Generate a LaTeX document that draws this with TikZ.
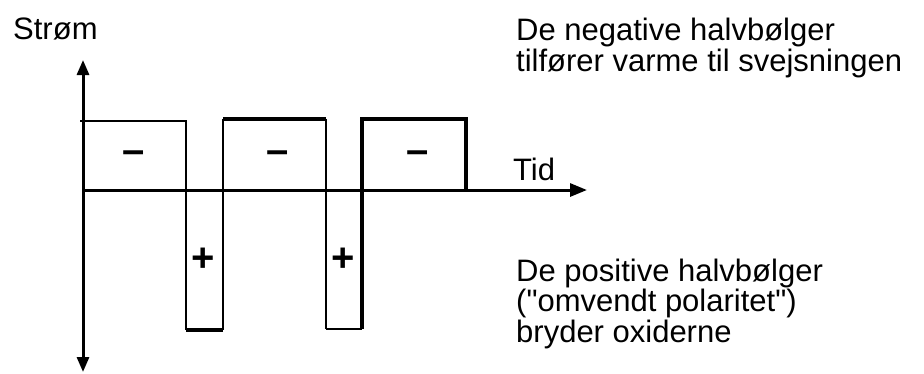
\documentclass[tikz,border=0pt]{standalone}
\usepackage{fontspec}
\newfontfamily\wavefont{Liberation Sans}
\usepackage{xcolor}
\usepackage{tikz}
\usetikzlibrary{arrows.meta}
\definecolor{WaveInk}{HTML}{000000}
\tikzset{
  wave label/.style={
    font=\wavefont\fontsize{31}{30.5}\selectfont, text=WaveInk,
    inner sep=0pt, anchor=base west, align=left
  },
  wave sign/.style={
    font=\wavefont\fontsize{40}{40}\selectfont\bfseries, text=WaveInk, inner sep=0pt
  },
  wave thin/.style={WaveInk, line width=1.3pt},
  wave mid/.style={WaveInk, line width=2.2pt},
  wave thick/.style={WaveInk, line width=3.4pt},
  wave axis/.style={WaveInk, line width=3pt,
    {Triangle[length=15pt, width=12pt]}-{Triangle[length=15pt, width=12pt]}},
  wave time/.style={WaveInk, line width=3pt, -{Triangle[length=17pt, width=13pt]}}
}

\begin{document}
\begin{tikzpicture}[x=1pt, y=-1pt]
  \useasboundingbox (0,0) rectangle (924,373);

  \coordinate (ytop) at (83,60);
  \coordinate (ybot) at (83,372);
  \coordinate (origin) at (83,190);
  \coordinate (xend) at (587,190);

  \draw[wave thin] (80,121) -- (186,121) -- (186,330);
  \draw[wave thin] (223,330) -- (223,119);
  \draw[wave thin] (326,119) -- (326,329);
  \draw[wave thick] (223,119) -- (326,119);
  \draw[wave thick] (186,330) -- (223,330);
  \draw[wave mid] (326,329) -- (362,329);
  \draw[wave thick] (362,329) -- (362,119) -- (466,119) -- (466,190);

  \draw[wave axis] (ybot) -- (ytop);
  \draw[wave time] (origin) -- (xend);

  \node[wave sign] (minusA) at (134,157) {–};
  \node[wave sign] (minusB) at (278,157) {–};
  \node[wave sign] (minusC) at (418,157) {–};
  \node[wave sign] (plusA) at (203,260) {+};
  \node[wave sign] (plusB) at (343,260) {+};

  \node[wave label] (strom) at (13,39) {Strøm};
  \node[wave label] (tid) at (513,180) {Tid};
  \node[wave label] (negtxt) at (516,71)
    {De negative halvbølger\\tilfører varme til svejsningen};
  \node[wave label] (postxt) at (516,342)
    {De positive halvbølger\\("omvendt polaritet")\\bryder oxiderne};
\end{tikzpicture}
\end{document}
